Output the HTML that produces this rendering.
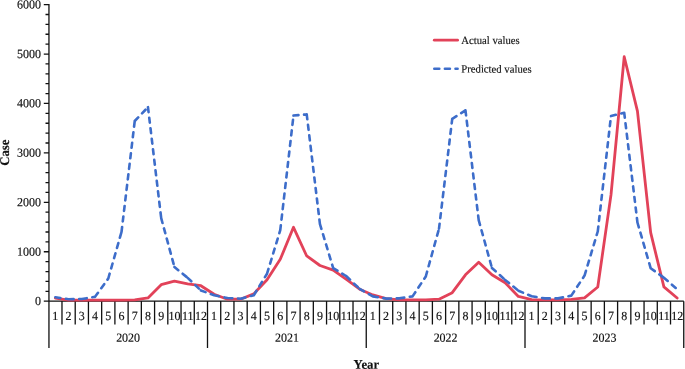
<!DOCTYPE html><html><head><meta charset="utf-8"><style>html,body{margin:0;padding:0;background:#fff;}body{width:685px;height:369px;overflow:hidden;}svg{display:block;will-change:transform;}path{shape-rendering:geometricPrecision;}</style></head><body><svg width="685" height="369" viewBox="0 0 685 369"><path d="M48.95,3.9999999999999996V348M43.8,301.20H48.75M45.5,291.31H48.75M45.5,281.43H48.75M45.5,271.54H48.75M45.5,261.65H48.75M43.8,251.77H48.75M45.5,241.88H48.75M45.5,231.99H48.75M45.5,222.11H48.75M45.5,212.22H48.75M43.8,202.33H48.75M45.5,192.45H48.75M45.5,182.56H48.75M45.5,172.67H48.75M45.5,162.79H48.75M43.8,152.90H48.75M45.5,143.01H48.75M45.5,133.13H48.75M45.5,123.24H48.75M45.5,113.35H48.75M43.8,103.47H48.75M45.5,93.58H48.75M45.5,83.69H48.75M45.5,73.81H48.75M45.5,63.92H48.75M43.8,54.03H48.75M45.5,44.15H48.75M45.5,34.26H48.75M45.5,24.37H48.75M45.5,14.49H48.75M43.8,4.60H48.75M48.75,301.2H683.75M61.98,301.2V324.6M75.21,301.2V324.6M88.44,301.2V324.6M101.67,301.2V324.6M114.90,301.2V324.6M128.12,301.2V324.6M141.35,301.2V324.6M154.58,301.2V324.6M167.81,301.2V324.6M181.04,301.2V324.6M194.27,301.2V324.6M207.50,301.2V348M220.73,301.2V324.6M233.96,301.2V324.6M247.19,301.2V324.6M260.42,301.2V324.6M273.65,301.2V324.6M286.88,301.2V324.6M300.10,301.2V324.6M313.33,301.2V324.6M326.56,301.2V324.6M339.79,301.2V324.6M353.02,301.2V324.6M366.25,301.2V348M379.48,301.2V324.6M392.71,301.2V324.6M405.94,301.2V324.6M419.17,301.2V324.6M432.40,301.2V324.6M445.62,301.2V324.6M458.85,301.2V324.6M472.08,301.2V324.6M485.31,301.2V324.6M498.54,301.2V324.6M511.77,301.2V324.6M525.00,301.2V348M538.23,301.2V324.6M551.46,301.2V324.6M564.69,301.2V324.6M577.92,301.2V324.6M591.15,301.2V324.6M604.38,301.2V324.6M617.60,301.2V324.6M630.83,301.2V324.6M644.06,301.2V324.6M657.29,301.2V324.6M670.52,301.2V324.6M683.75,301.2V348" stroke="#111" stroke-width="1.3" fill="none"/><g fill="#111" stroke="#111" stroke-width="0.15" style="font-family:&quot;Liberation Serif&quot;,serif"><text transform="translate(41.00,305.10) rotate(0.05) scale(1,1.04)" font-size="12" text-anchor="end">0</text><text transform="translate(41.00,255.67) rotate(0.05) scale(1,1.04)" font-size="12" text-anchor="end">1000</text><text transform="translate(41.00,206.23) rotate(0.05) scale(1,1.04)" font-size="12" text-anchor="end">2000</text><text transform="translate(41.00,156.80) rotate(0.05) scale(1,1.04)" font-size="12" text-anchor="end">3000</text><text transform="translate(41.00,107.37) rotate(0.05) scale(1,1.04)" font-size="12" text-anchor="end">4000</text><text transform="translate(41.00,57.93) rotate(0.05) scale(1,1.04)" font-size="12" text-anchor="end">5000</text><text transform="translate(41.00,8.50) rotate(0.05) scale(1,1.04)" font-size="12" text-anchor="end">6000</text><text transform="translate(55.36,320.00) rotate(0.05) scale(1,1.04)" font-size="12" text-anchor="middle">1</text><text transform="translate(68.59,320.00) rotate(0.05) scale(1,1.04)" font-size="12" text-anchor="middle">2</text><text transform="translate(81.82,320.00) rotate(0.05) scale(1,1.04)" font-size="12" text-anchor="middle">3</text><text transform="translate(95.05,320.00) rotate(0.05) scale(1,1.04)" font-size="12" text-anchor="middle">4</text><text transform="translate(108.28,320.00) rotate(0.05) scale(1,1.04)" font-size="12" text-anchor="middle">5</text><text transform="translate(121.51,320.00) rotate(0.05) scale(1,1.04)" font-size="12" text-anchor="middle">6</text><text transform="translate(134.74,320.00) rotate(0.05) scale(1,1.04)" font-size="12" text-anchor="middle">7</text><text transform="translate(147.97,320.00) rotate(0.05) scale(1,1.04)" font-size="12" text-anchor="middle">8</text><text transform="translate(161.20,320.00) rotate(0.05) scale(1,1.04)" font-size="12" text-anchor="middle">9</text><text transform="translate(174.43,320.00) rotate(0.05) scale(1,1.04)" font-size="12" text-anchor="middle">10</text><text transform="translate(187.66,320.00) rotate(0.05) scale(1,1.04)" font-size="12" text-anchor="middle">11</text><text transform="translate(200.89,320.00) rotate(0.05) scale(1,1.04)" font-size="12" text-anchor="middle">12</text><text transform="translate(214.11,320.00) rotate(0.05) scale(1,1.04)" font-size="12" text-anchor="middle">1</text><text transform="translate(227.34,320.00) rotate(0.05) scale(1,1.04)" font-size="12" text-anchor="middle">2</text><text transform="translate(240.57,320.00) rotate(0.05) scale(1,1.04)" font-size="12" text-anchor="middle">3</text><text transform="translate(253.80,320.00) rotate(0.05) scale(1,1.04)" font-size="12" text-anchor="middle">4</text><text transform="translate(267.03,320.00) rotate(0.05) scale(1,1.04)" font-size="12" text-anchor="middle">5</text><text transform="translate(280.26,320.00) rotate(0.05) scale(1,1.04)" font-size="12" text-anchor="middle">6</text><text transform="translate(293.49,320.00) rotate(0.05) scale(1,1.04)" font-size="12" text-anchor="middle">7</text><text transform="translate(306.72,320.00) rotate(0.05) scale(1,1.04)" font-size="12" text-anchor="middle">8</text><text transform="translate(319.95,320.00) rotate(0.05) scale(1,1.04)" font-size="12" text-anchor="middle">9</text><text transform="translate(333.18,320.00) rotate(0.05) scale(1,1.04)" font-size="12" text-anchor="middle">10</text><text transform="translate(346.41,320.00) rotate(0.05) scale(1,1.04)" font-size="12" text-anchor="middle">11</text><text transform="translate(359.64,320.00) rotate(0.05) scale(1,1.04)" font-size="12" text-anchor="middle">12</text><text transform="translate(372.86,320.00) rotate(0.05) scale(1,1.04)" font-size="12" text-anchor="middle">1</text><text transform="translate(386.09,320.00) rotate(0.05) scale(1,1.04)" font-size="12" text-anchor="middle">2</text><text transform="translate(399.32,320.00) rotate(0.05) scale(1,1.04)" font-size="12" text-anchor="middle">3</text><text transform="translate(412.55,320.00) rotate(0.05) scale(1,1.04)" font-size="12" text-anchor="middle">4</text><text transform="translate(425.78,320.00) rotate(0.05) scale(1,1.04)" font-size="12" text-anchor="middle">5</text><text transform="translate(439.01,320.00) rotate(0.05) scale(1,1.04)" font-size="12" text-anchor="middle">6</text><text transform="translate(452.24,320.00) rotate(0.05) scale(1,1.04)" font-size="12" text-anchor="middle">7</text><text transform="translate(465.47,320.00) rotate(0.05) scale(1,1.04)" font-size="12" text-anchor="middle">8</text><text transform="translate(478.70,320.00) rotate(0.05) scale(1,1.04)" font-size="12" text-anchor="middle">9</text><text transform="translate(491.93,320.00) rotate(0.05) scale(1,1.04)" font-size="12" text-anchor="middle">10</text><text transform="translate(505.16,320.00) rotate(0.05) scale(1,1.04)" font-size="12" text-anchor="middle">11</text><text transform="translate(518.39,320.00) rotate(0.05) scale(1,1.04)" font-size="12" text-anchor="middle">12</text><text transform="translate(531.61,320.00) rotate(0.05) scale(1,1.04)" font-size="12" text-anchor="middle">1</text><text transform="translate(544.84,320.00) rotate(0.05) scale(1,1.04)" font-size="12" text-anchor="middle">2</text><text transform="translate(558.07,320.00) rotate(0.05) scale(1,1.04)" font-size="12" text-anchor="middle">3</text><text transform="translate(571.30,320.00) rotate(0.05) scale(1,1.04)" font-size="12" text-anchor="middle">4</text><text transform="translate(584.53,320.00) rotate(0.05) scale(1,1.04)" font-size="12" text-anchor="middle">5</text><text transform="translate(597.76,320.00) rotate(0.05) scale(1,1.04)" font-size="12" text-anchor="middle">6</text><text transform="translate(610.99,320.00) rotate(0.05) scale(1,1.04)" font-size="12" text-anchor="middle">7</text><text transform="translate(624.22,320.00) rotate(0.05) scale(1,1.04)" font-size="12" text-anchor="middle">8</text><text transform="translate(637.45,320.00) rotate(0.05) scale(1,1.04)" font-size="12" text-anchor="middle">9</text><text transform="translate(650.68,320.00) rotate(0.05) scale(1,1.04)" font-size="12" text-anchor="middle">10</text><text transform="translate(663.91,320.00) rotate(0.05) scale(1,1.04)" font-size="12" text-anchor="middle">11</text><text transform="translate(677.14,320.00) rotate(0.05) scale(1,1.04)" font-size="12" text-anchor="middle">12</text><text transform="translate(128.12,341.80) rotate(0.05) scale(1,1.04)" font-size="12" text-anchor="middle">2020</text><text transform="translate(286.88,341.80) rotate(0.05) scale(1,1.04)" font-size="12" text-anchor="middle">2021</text><text transform="translate(445.62,341.80) rotate(0.05) scale(1,1.04)" font-size="12" text-anchor="middle">2022</text><text transform="translate(604.38,341.80) rotate(0.05) scale(1,1.04)" font-size="12" text-anchor="middle">2023</text><text transform="translate(366.40,368.70) rotate(0.05) scale(1,1.04)" font-size="12.8" font-weight="bold" text-anchor="middle">Year</text><text transform="translate(9.1,152.65) rotate(-90) rotate(0.05) scale(1,1.04)" font-size="12.8" font-weight="bold" text-anchor="middle">Case</text><text transform="translate(461.30,43.90) rotate(0.05) scale(1,1.04)" font-size="10.7">Actual values</text><text transform="translate(461.30,72.60) rotate(0.05) scale(1,1.04)" font-size="10.7">Predicted values</text></g><polyline points="55.36,298.23 68.59,300.21 81.82,300.21 95.05,300.21 108.28,300.21 121.51,300.21 134.74,299.91 147.97,297.89 161.20,284.64 174.43,281.18 187.66,283.90 200.89,285.73 214.11,294.28 227.34,299.22 240.57,299.22 253.80,293.88 267.03,279.80 280.26,259.33 293.49,227.30 306.72,255.97 319.95,265.51 333.18,270.06 346.41,279.45 359.64,289.19 372.86,294.92 386.09,298.58 399.32,299.82 412.55,299.82 425.78,299.82 439.01,299.22 452.24,292.70 465.47,274.80 478.70,262.30 491.93,274.80 505.16,282.81 518.39,296.40 531.61,299.57 544.84,299.82 558.07,299.82 571.30,299.32 584.53,297.89 597.76,287.01 610.99,194.92 624.22,56.75 637.45,111.13 650.68,232.69 663.91,286.91 677.14,297.99" fill="none" stroke="#e24259" stroke-width="2.8" stroke-linejoin="round" stroke-linecap="round"/><path d="M55.36,297.25L68.59,299.22M68.59,299.22L81.82,298.98M81.82,298.98L95.05,296.80M95.05,296.80L108.28,278.51M108.28,278.51L121.51,231.99M121.51,231.99L134.74,121.02M134.74,121.02L147.97,107.17M147.97,107.17L161.20,218.15M161.20,218.15L174.43,266.99M174.43,266.99L187.66,277.82M187.66,277.82L200.89,290.42M200.89,290.42L214.11,295.27M214.11,295.27L227.34,297.99M227.34,297.99L240.57,298.68M240.57,298.68L253.80,295.22M253.80,295.22L267.03,273.72M267.03,273.72L280.26,230.16M280.26,230.16L293.49,115.58M293.49,115.58L306.72,114.34M306.72,114.34L319.95,224.08M319.95,224.08L333.18,268.08M333.18,268.08L346.41,276.24M346.41,276.24L359.64,288.89M359.64,288.89L372.86,296.40M372.86,296.40L386.09,298.58M386.09,298.58L399.32,298.33M399.32,298.33L412.55,296.40M412.55,296.40L425.78,276.48M425.78,276.48L439.01,228.68M439.01,228.68L452.24,118.79M452.24,118.79L465.47,110.39M465.47,110.39L478.70,220.08M478.70,220.08L491.93,267.98M491.93,267.98L505.16,279.89M505.16,279.89L518.39,290.72M518.39,290.72L531.61,296.26M531.61,296.26L544.84,298.38M544.84,298.38L558.07,298.38M558.07,298.38L571.30,295.61M571.30,295.61L584.53,275.59M584.53,275.59L597.76,231.50M597.76,231.50L610.99,116.07M610.99,116.07L624.22,112.76M624.22,112.76L637.45,222.50M637.45,222.50L650.68,268.23M650.68,268.23L663.91,277.72M663.91,277.72L677.14,289.19" fill="none" stroke="#3d6dca" stroke-width="2.6" stroke-linejoin="round" stroke-linecap="round" stroke-dasharray="5.0 5.60"/><line x1="434.3" y1="40.15" x2="457.6" y2="40.15" stroke="#e24259" stroke-width="2.8" stroke-linecap="round"/><line x1="434.3" y1="68.7" x2="457.6" y2="68.7" stroke="#3d6dca" stroke-width="2.6" stroke-linecap="round" stroke-dasharray="5 5.6"/></svg></body></html>
